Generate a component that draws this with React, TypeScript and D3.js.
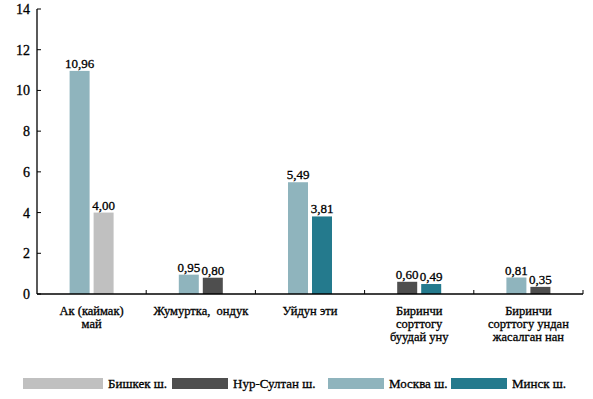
import React from "react";
import { scaleBand, scaleLinear } from "d3";

const categories = [
  ["Ак (каймак)", "май"],
  ["Жумуртка,  ондук"],
  ["Уйдун эти"],
  ["Биринчи", "сорттогу", "буудай уну"],
  ["Биринчи", "сорттогу ундан", "жасалган нан"],
];

const seriesNames = ["Москва ш.", "Бишкек ш.", "Нур-Султан ш.", "Минск ш."];
const moscow = [10.96, 0.95, 5.49, null, 0.81];
const bishkek = [4.0, null, null, null, null];
const nurSultan = [null, 0.8, null, 0.6, 0.35];
const minsk = [null, null, 3.81, 0.49, null];
const yTicks = [0, 2, 4, 6, 8, 10, 12, 14];

const legendOrder = ["Бишкек ш.", "Нур-Султан ш.", "Москва ш.", "Минск ш."];

const colors: Record<string, string> = {
  "Москва ш.": "#8fb4bd",
  "Бишкек ш.": "#c0c0c0",
  "Нур-Султан ш.": "#4e4e4e",
  "Минск ш.": "#247a8d",
};

const W = 593;
const H = 399;
const m = { left: 37, right: 10, top: 9, bottom: 105 };
const txt = { fontFamily: '"Liberation Serif"', stroke: "#000", strokeWidth: 0.3 };

export default function App() {
  const values = [moscow, bishkek, nurSultan, minsk];
  const x = scaleBand<number>()
    .domain(categories.map((_, i) => i))
    .range([m.left, W - m.right])
    .padding(0);
  const y = scaleLinear().domain([0, 14]).range([H - m.bottom, m.top]);
  const y0 = y(0);

  // legend layout (swatch x, swatch width)
  const legendPos = [
    { x: 23, w: 80 },
    { x: 172, w: 56 },
    { x: 328, w: 56 },
    { x: 451, w: 56 },
  ];

  return (
    <div style={{ position: "absolute", left: 0, top: 0 }}>
      <svg width={W} height={H} style={{ display: "block", background: "#fff" }}>
        {/* bars */}
        {categories.map((_, ci) => {
          const bars = seriesNames
            .map((name, si) => ({ name, v: values[si][ci] }))
            .filter((d) => d.v != null) as { name: string; v: number }[];
          const c = x(ci)! + x.bandwidth() / 2;
          const inner = scaleBand<string>()
            .domain(bars.map((b) => b.name))
            .range([c - 22, c + 22])
            .paddingInner(4 / 24);
          return (
            <g key={ci}>
              {bars.map((b) => (
                <g key={b.name}>
                  <rect
                    x={inner(b.name)}
                    y={y(b.v)}
                    width={inner.bandwidth()}
                    height={y0 - y(b.v)}
                    fill={colors[b.name]}
                  />
                  <text
                    x={inner(b.name)! + inner.bandwidth() / 2}
                    y={y(b.v) - 3}
                    textAnchor="middle"
                    fontSize={13}
                    fill="#000"
                    style={txt}
                  >
                    {b.v.toFixed(2).replace(".", ",")}
                  </text>
                </g>
              ))}
            </g>
          );
        })}

        {/* y axis */}
        <line x1={m.left} x2={m.left} y1={y(14)} y2={y0} stroke="#000" strokeWidth={1.3} />
        {yTicks.map((t) => (
          <g key={t}>
            <line x1={m.left} x2={m.left + 4} y1={y(t)} y2={y(t)} stroke="#000" />
            <text x={30} y={y(t) + 5} textAnchor="end" fontSize={14} fill="#000" style={txt}>
              {t}
            </text>
          </g>
        ))}

        {/* x axis */}
        <line x1={m.left} x2={W - m.right} y1={y0} y2={y0} stroke="#000" strokeWidth={1.3} />
        {categories.map((_, i) => (
          <line
            key={i}
            x1={x(i)! + x.bandwidth()}
            x2={x(i)! + x.bandwidth()}
            y1={y0}
            y2={y0 - 4}
            stroke="#000"
          />
        ))}
        {categories.map((lines, i) => (
          <text
            key={i}
            x={x(i)! + x.bandwidth() / 2}
            y={y0 + 21}
            textAnchor="middle"
            fontSize={12.5}
            fill="#000"
            style={txt}
          >
            {lines.map((l, li) => (
              <tspan key={li} x={x(i)! + x.bandwidth() / 2} dy={li === 0 ? 0 : 13} style={{ whiteSpace: "pre" }}>
                {l}
              </tspan>
            ))}
          </text>
        ))}

        {/* legend */}
        {legendOrder.map((name, i) => (
          <g key={name}>
            <rect x={legendPos[i].x} y={378} width={legendPos[i].w} height={11} fill={colors[name]} />
            <text x={legendPos[i].x + legendPos[i].w + 5} y={388} fontSize={13} fill="#000" style={txt}>
              {name}
            </text>
          </g>
        ))}
      </svg>
    </div>
  );
}
